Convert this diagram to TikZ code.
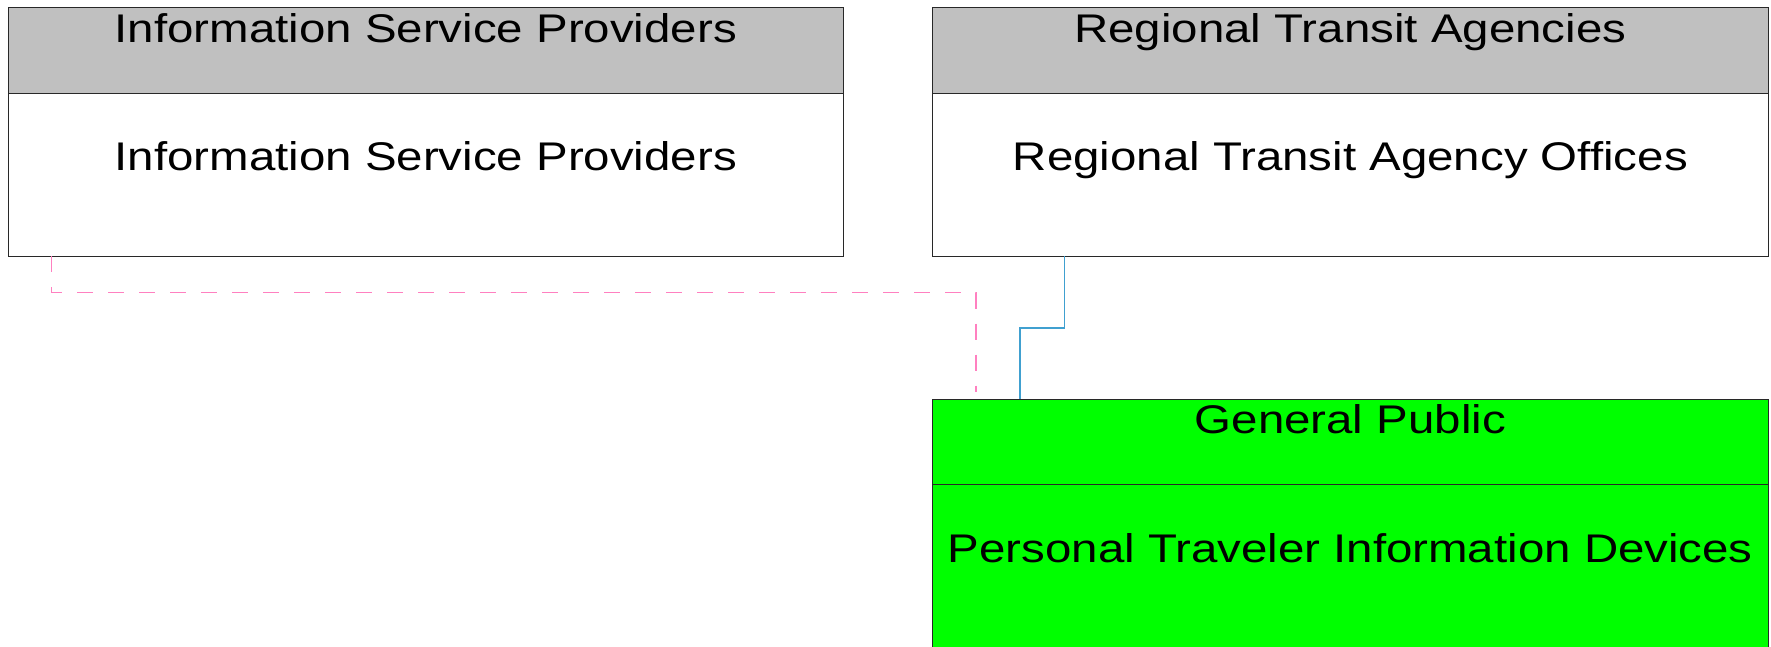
\documentclass[tikz,border=0pt]{standalone}
\usepackage{fontspec}
\setmainfont{Liberation Sans}
\newfontfamily\widesans[FakeStretch=1.186]{Liberation Sans}
\definecolor{hdrgray}{RGB}{192,192,192}
\definecolor{gpgreen}{RGB}{0,255,0}
\definecolor{flowpink}{RGB}{255,128,192}
\definecolor{flowblue}{RGB}{64,160,208}
\definecolor{edge}{RGB}{40,40,40}
\begin{document}
\begin{tikzpicture}[x=1pt,y=-1pt,
  boxpart/.style={draw=edge,line width=1pt,rectangle,inner sep=0pt,anchor=north west,outer sep=0pt},
  lbl/.style={font=\widesans\fontsize{40}{44}\selectfont,anchor=base,inner sep=0pt},
  pinkflow/.style={draw=flowpink,line width=1.3pt,dash pattern=on 16pt off 15pt},
  blueflow/.style={draw=flowblue,line width=1.4pt}]
\useasboundingbox (0,0) rectangle (1771,646);
\clip (0,0) rectangle (1771,646);
\fill[white] (0,0) rectangle (1771,646);
% Information Service Providers
\node[boxpart,fill=hdrgray,minimum width=835.5pt,minimum height=85.5pt] (ispH) at (8,7.5) {};
\node[boxpart,fill=white,minimum width=835.5pt,minimum height=163pt] (ispB) at (8,93) {};
\node[lbl] (ispHt) at (425.75,42.7) {Information Service Providers};
\node[lbl] (ispBt) at (425.75,170.7) {Information Service Providers};
% Regional Transit Agencies
\node[boxpart,fill=hdrgray,minimum width=836pt,minimum height=85.5pt] (rtaH) at (932.3,7.5) {};
\node[boxpart,fill=white,minimum width=836pt,minimum height=163pt] (rtaB) at (932.3,93) {};
\node[lbl] (rtaHt) at (1350.3,42.7) {Regional Transit Agencies};
\node[lbl] (rtaBt) at (1350.3,170.7) {Regional Transit Agency Offices};
% General Public
\node[boxpart,fill=gpgreen,minimum width=836pt,minimum height=85.3pt] (gpH) at (932.3,399) {};
\node[boxpart,fill=gpgreen,minimum width=836pt,minimum height=250pt] (gpB) at (932.3,484.3) {};
\node[lbl] (gpHt) at (1350.3,433) {General Public};
\node[lbl] (gpBt) at (1350.3,562.7) {Personal Traveler Information Devices};
% connectors
\coordinate (pinkS) at (ispB.south west -| 51.7,0);
\coordinate (pinkE) at (976,392);
\draw[pinkflow] (pinkS) -- (51.7,292.7) -- (976,292.7) -- (pinkE);
\coordinate (blueS) at (rtaB.south west -| 1064.3,0);
\coordinate (blueE) at (gpH.north west -| 1020,0);
\draw[blueflow] (blueS) -- (1064.3,328) -- (1020,328) -- (blueE);
\end{tikzpicture}
\end{document}
